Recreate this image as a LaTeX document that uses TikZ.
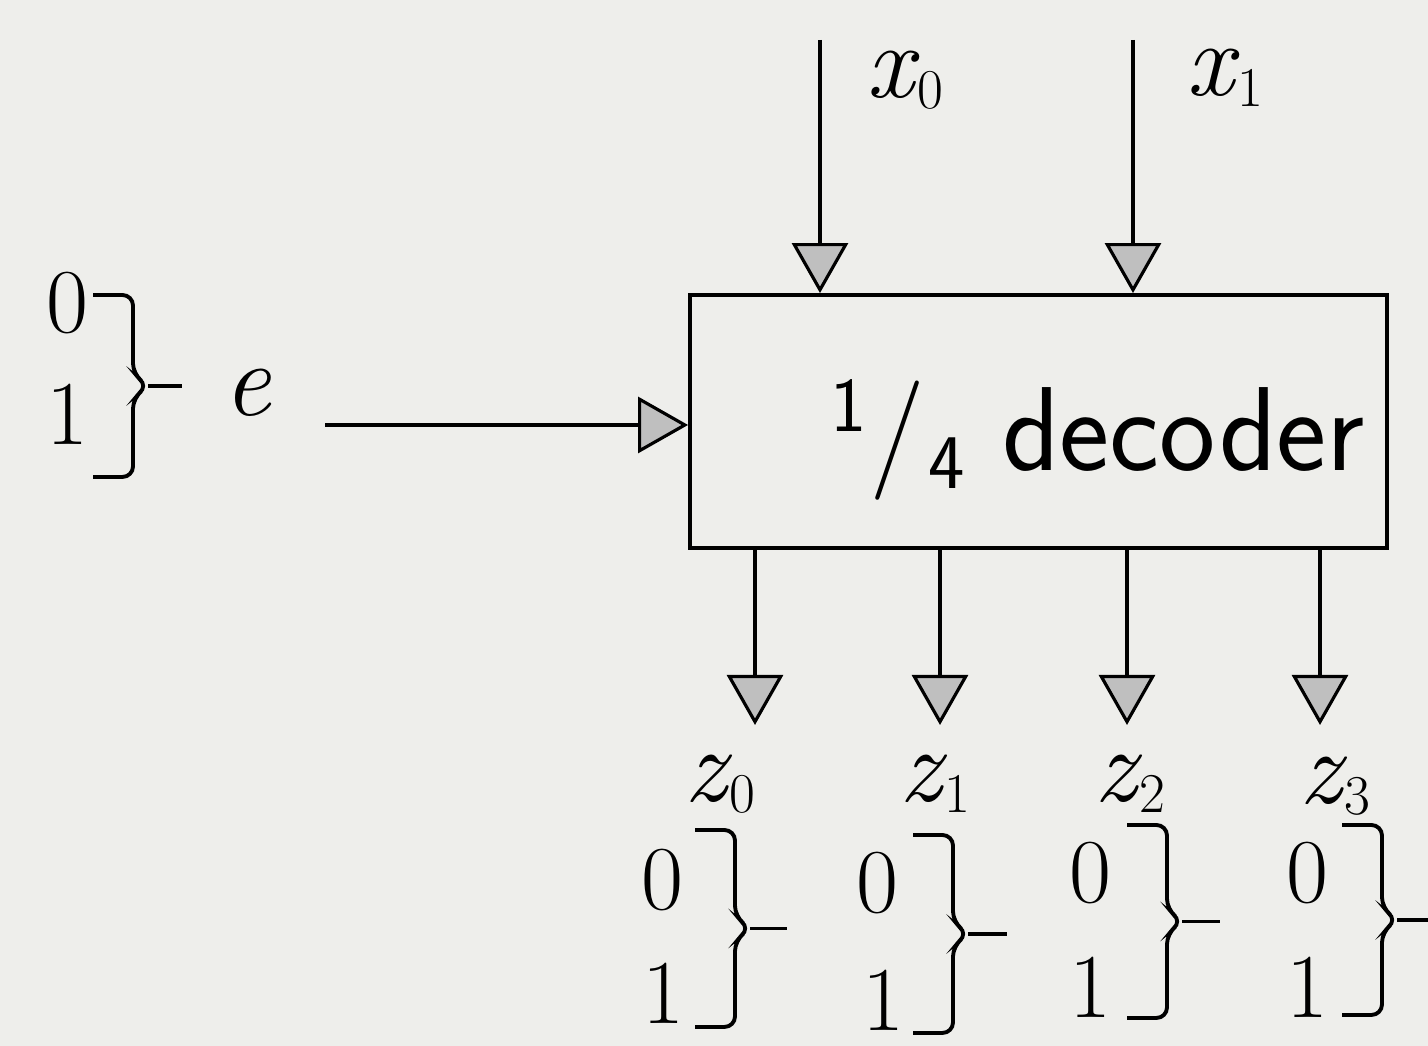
\documentclass[tikz,border=0pt]{standalone}
\usetikzlibrary{arrows.meta,calc}
\usepackage{tkz-euclide}

\definecolor{paper}{RGB}{238,238,235}
\tikzset{
  sig/.style={line width=1pt,-{Triangle[length=0.5cm,width=0.56cm,fill=gray!50,line width=0.9pt]}},
  dbox/.style={draw,line width=1.1pt,minimum width=6.97cm,minimum height=2.53cm,inner sep=0pt},
  brc/.style={line width=1.1pt,rounded corners=3pt},
  lbl/.style={font=\fontsize{30}{34}\selectfont\itshape,inner sep=0pt},
  bit/.style={font=\fontsize{26}{30}\selectfont,inner sep=0pt}
}
% brace: x of the upright, top, bottom, end of the tail
\newcommand{\bitbrace}[4]{%
  \draw[brc] ({#1-0.4},#2) -- (#1,#2) -- (#1,{(#2+#3)/2+0.12})
    -- ({#1+0.15},{(#2+#3)/2}) -- (#1,{(#2+#3)/2-0.12}) -- (#1,#3) -- ({#1-0.4},#3);
  \draw[brc] ({#1+0.15},{(#2+#3)/2}) -- (#4,{(#2+#3)/2});}
\newcommand{\sub}[1]{\kern0.03em\raisebox{-0.1em}{\fontsize{16}{18}\selectfont\upshape #1}}

\begin{document}
\begin{tikzpicture}
\fill[paper] (0,0) rectangle (14.28,10.46);
\useasboundingbox (0,0) rectangle (14.28,10.46);

\tkzDefPoints{8.2/10.06/X0,11.33/10.06/X1,3.25/6.21/E}
\tkzDefPoints{7.55/3.21/Z0,9.40/3.21/Z1,11.27/3.21/Z2,13.20/3.21/Z3}

% the decoder
\node[dbox] (dec) at (10.385,6.245) {};
\node[font=\sffamily\fontsize{34}{38}\selectfont,inner sep=0pt] (dname) at (10.98,6.06)
  {\raisebox{0.32em}{\fontsize{22}{24}\selectfont 1}\kern0.02em/\kern0.02em\raisebox{-0.15em}{\fontsize{22}{24}\selectfont 4} decoder};

% inputs
\draw[sig] (X0) -- (X0 |- dec.north);
\draw[sig] (X1) -- (X1 |- dec.north);
\draw[sig] (E) -- (E -| dec.west);
\node[lbl] (lx0) at (9.05,9.66) {x\sub{0}};
\node[lbl] (lx1) at (12.25,9.68) {x\sub{1}};
\node[lbl] (le) at (2.47,6.53) {e};

% enable bits
\node[bit] (e0) at (0.67,7.43) {0};
\node[bit] (e1) at (0.67,6.32) {1};
\bitbrace{1.33}{7.51}{5.69}{1.82}

% outputs
\draw[sig] (Z0 |- dec.south) -- (Z0);
\draw[sig] (Z1 |- dec.south) -- (Z1);
\draw[sig] (Z2 |- dec.south) -- (Z2);
\draw[sig] (Z3 |- dec.south) -- (Z3);

\node[lbl] (lz0) at (7.20,2.62) {z\sub{0}};
\node[lbl] (lz1) at (9.35,2.62) {z\sub{1}};
\node[lbl] (lz2) at (11.30,2.62) {z\sub{2}};
\node[lbl] (lz3) at (13.35,2.60) {z\sub{3}};

\node[bit] (a0) at (6.62,1.66) {0};
\node[bit] (a1) at (6.63,0.53) {1};
\node[bit] (b0) at (8.77,1.63) {0};
\node[bit] (b1) at (8.83,0.46) {1};
\node[bit] (c0) at (10.90,1.73) {0};
\node[bit] (c1) at (10.90,0.59) {1};
\node[bit] (d0) at (13.07,1.73) {0};
\node[bit] (d1) at (13.07,0.59) {1};

\bitbrace{7.35}{2.16}{0.19}{7.87}
\bitbrace{9.53}{2.11}{0.13}{10.07}
\bitbrace{11.67}{2.21}{0.28}{12.20}
\bitbrace{13.82}{2.21}{0.31}{14.28}

\end{tikzpicture}
\end{document}
